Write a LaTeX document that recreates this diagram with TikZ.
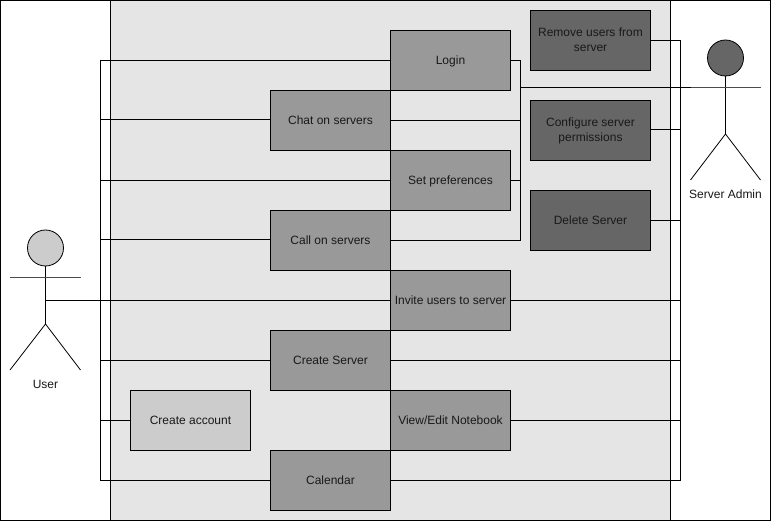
\documentclass[tikz,border=0pt]{standalone}
\usepackage{fontspec}
\setmainfont{Liberation Sans}
\newcommand{\boxstrut}{\rule[-2pt]{0pt}{12pt}}
\tikzset{
  usecase/.style={draw=black, minimum width=120pt, minimum height=60pt, inner sep=1pt, align=center, text=black!90,
    execute at begin node=\boxstrut, execute at end node=\boxstrut},
  loginbox/.style={usecase, fill=black!40},
  signupbox/.style={usecase, fill=black!20},
  adminbox/.style={usecase, fill=black!60},
  wire/.style={draw=black, line width=1pt},
  limb/.style={draw=black, line width=0.8pt},
  caption/.style={inner sep=0pt, text=black!90},
}
\begin{document}
\begin{tikzpicture}[x=1pt, y=-1pt, font=\fontsize{12}{15}\selectfont]
  \useasboundingbox (0,0) rectangle (771,521);
  % ------- panels -------
  \draw[black, fill=white, line width=1pt] (0.5,0.5) rectangle (770.5,520.5);
  \draw[black, fill=black!10, line width=1pt] (110.5,0.5) rectangle (670.5,520.5);
  % ------- buses -------
  \coordinate (userbus) at (100.5,60.5);
  \coordinate (userbusend) at (100.5,480.5);
  \coordinate (adminbus) at (680.5,40.5);
  \coordinate (adminbusend) at (680.5,480.5);
  \coordinate (loginbus) at (520.5,60.5);
  \coordinate (loginbusend) at (520.5,240.5);
  \coordinate (userarm) at (45.5,300.5);
  \coordinate (adminarm) at (690.5,87.5);
  \draw[wire] (userbus) -- (userbusend);
  \draw[wire] (adminbus) -- (adminbusend);
  \draw[wire] (loginbus) -- (loginbusend);
  % ------- use cases -------
  \node[loginbox] (login) at (450.5,60.5) {Login};
  \node[loginbox] (chat) at (330.5,120.5) {Chat on servers};
  \node[loginbox] (prefs) at (450.5,180.5) {Set preferences};
  \node[loginbox] (call) at (330.5,240.5) {Call on servers};
  \node[loginbox] (invite) at (450.5,300.5) {Invite users to server};
  \node[loginbox] (create) at (330.5,360.5) {Create Server};
  \node[loginbox] (notebook) at (450.5,420.5) {View/Edit Notebook};
  \node[loginbox] (calendar) at (330.5,480.5) {Calendar};
  \node[signupbox] (account) at (190.5,420.5) {Create account};
  \node[adminbox] (remove) at (590.5,40.5) {Remove users from\\server};
  \node[adminbox] (config) at (590.5,130.5) {Configure server\\permissions};
  \node[adminbox] (delete) at (590.5,220.5) {Delete Server};
  % ------- user side -------
  \foreach \c in {login,prefs,account,calendar}
    \draw[wire] (\c.west) -- (\c.west -| userbus);
  \foreach \c in {chat,call,create}
    \draw[wire] ([yshift=0.5pt]\c.west) -- ([yshift=0.5pt]\c.west -| userbus);
  \draw[wire] (userarm) -- (invite.west);
  % ------- admin side -------
  \foreach \c in {remove,delete,invite,create,notebook,calendar}
    \draw[wire] (\c.east) -- (\c.east -| adminbus);
  \draw[wire] ([yshift=0.5pt]config.east) -- ([yshift=0.5pt]config.east -| adminbus);
  % ------- login group -------
  \foreach \c in {login,chat,prefs,call}
    \draw[wire] (\c.east) -- (\c.east -| loginbus);
  \draw[wire] (adminarm -| loginbus) -- (adminarm);
  % ------- actors -------
  \node[draw=black, fill=black!20, circle, minimum size=36pt, inner sep=0pt, line width=0.8pt] (userhead) at (45.5,248) {};
  \coordinate (userhip) at (45.5,324);
  \draw[limb] (userhead.south) -- (userhip);
  \draw[limb, black!70] (10,277) -- (80.5,277);
  \draw[limb] (10,370) -- (userhip) -- (80.5,370);
  \node[caption] (user) at (45.5,384) {User};
  \node[draw=black, fill=black!60, circle, minimum size=36pt, inner sep=0pt, line width=0.8pt] (adminhead) at (725.5,58) {};
  \coordinate (adminhip) at (725.5,134);
  \draw[limb] (adminhead.south) -- (adminhip);
  \draw[limb, black!70] (adminarm) -- (761,87.5);
  \draw[limb] (690.5,180) -- (adminhip) -- (760.5,180);
  \node[caption] (admin) at (725.5,194) {Server Admin};
\end{tikzpicture}
\end{document}
